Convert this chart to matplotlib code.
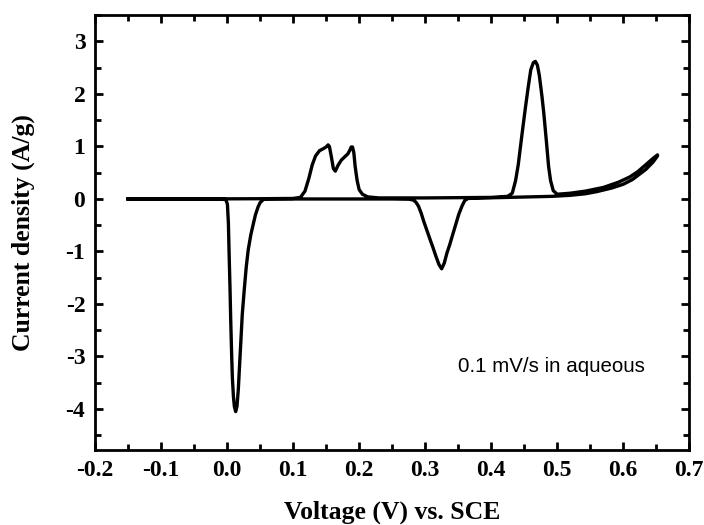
import matplotlib
matplotlib.use("Agg")
import matplotlib.pyplot as plt
from matplotlib.ticker import MultipleLocator, FormatStrFormatter

# courbe CV : balayage anodique puis cathodique
voltage_anodic = [-0.15, -0.05, 0.05, 0.10, 0.111, 0.118, 0.124, 0.129, 0.134, 0.140,
                  0.146, 0.150, 0.153, 0.155, 0.158, 0.161, 0.164, 0.168, 0.173, 0.178,
                  0.183, 0.186, 0.188, 0.190, 0.192, 0.194, 0.197, 0.200, 0.205, 0.213,
                  0.23, 0.30, 0.40, 0.425, 0.432, 0.437, 0.441, 0.447, 0.452, 0.456,
                  0.460, 0.464, 0.467, 0.470, 0.473, 0.477, 0.480, 0.484, 0.487, 0.490,
                  0.494, 0.500, 0.52, 0.543, 0.57, 0.593, 0.610, 0.622, 0.634, 0.643,
                  0.652]
current_anodic = [0.0, 0.0, 0.005, 0.01, 0.03, 0.15, 0.40, 0.65, 0.82, 0.92,
                  0.96, 0.99, 1.03, 1.00, 0.80, 0.58, 0.53, 0.64, 0.74, 0.80,
                  0.86, 0.93, 0.99, 0.99, 0.88, 0.62, 0.35, 0.18, 0.09, 0.04,
                  0.02, 0.02, 0.03, 0.05, 0.11, 0.35, 0.65, 1.26, 1.75, 2.12,
                  2.46, 2.60, 2.62, 2.55, 2.35, 1.95, 1.60, 1.05, 0.62, 0.35,
                  0.16, 0.09, 0.11, 0.15, 0.22, 0.32, 0.42, 0.52, 0.65, 0.75,
                  0.84]

voltage_cathodic = [0.652, 0.645, 0.634, 0.614, 0.600, 0.583, 0.560, 0.543, 0.52, 0.492,
                    0.442, 0.391, 0.365, 0.360, 0.356, 0.351, 0.346, 0.341, 0.337, 0.333,
                    0.329, 0.325, 0.321, 0.316, 0.312, 0.308, 0.303, 0.298, 0.294, 0.290,
                    0.286, 0.282, 0.276, 0.25, 0.20, 0.10, 0.060, 0.055, 0.050, 0.047,
                    0.043, 0.040, 0.036, 0.032, 0.029, 0.026, 0.023, 0.021, 0.019, 0.017,
                    0.015, 0.013, 0.011, 0.0096, 0.008, 0.007, 0.0055, 0.0045, 0.003, 0.002,
                    0.0005, -0.002, -0.02, -0.15]
current_cathodic = [0.82, 0.70, 0.56, 0.37, 0.28, 0.21, 0.14, 0.10, 0.07, 0.05,
                    0.035, 0.02, 0.01, -0.03, -0.13, -0.29, -0.50, -0.71, -0.88, -1.03,
                    -1.22, -1.33, -1.25, -1.08, -0.93, -0.79, -0.61, -0.43, -0.27, -0.14,
                    -0.06, -0.02, -0.005, 0.0, 0.0, 0.0, 0.0, -0.01, -0.07, -0.15,
                    -0.30, -0.46, -0.68, -0.97, -1.30, -1.73, -2.20, -2.68, -3.15, -3.63,
                    -3.95, -4.05, -3.95, -3.76, -3.40, -3.00, -2.30, -1.73, -1.00, -0.46,
                    -0.10, -0.01, 0.0, 0.0]

plt.rcParams['axes.unicode_minus'] = False
serif = ['Liberation Serif', 'DejaVu Serif']

fig = plt.figure(figsize=(7.04, 5.25), dpi=100)
ax = fig.add_axes([0.135, 0.143, 0.844, 0.828])

ax.plot(voltage_anodic + voltage_cathodic, current_anodic + current_cathodic,
        color='black', lw=2.4, solid_joinstyle='round')

ax.set_xlim(-0.2, 0.7)
ax.set_ylim(-4.78, 3.5)
ax.xaxis.set_major_locator(MultipleLocator(0.1))
ax.xaxis.set_minor_locator(MultipleLocator(0.05))
ax.yaxis.set_major_locator(MultipleLocator(1))
ax.yaxis.set_minor_locator(MultipleLocator(0.5))
ax.xaxis.set_major_formatter(FormatStrFormatter('%.1f'))
ax.yaxis.set_major_formatter(FormatStrFormatter('%d'))

ax.tick_params(which='both', direction='in', top=True, right=True, width=2)
ax.tick_params(which='major', length=6, pad=7)
ax.tick_params(which='minor', length=4)
for spine in ax.spines.values():
    spine.set_linewidth(2)

for lab in ax.get_xticklabels() + ax.get_yticklabels():
    lab.set_family(serif)
    lab.set_fontweight('bold')
    lab.set_fontsize(17)

ax.set_xlabel("Voltage (V) vs. SCE", family=serif, fontweight='bold', fontsize=18.5, labelpad=14)
ax.set_ylabel("Current density (A/g)", family=serif, fontweight='bold', fontsize=18.5, labelpad=22)

ax.text(0.492, -3.19, "0.1 mV/s in aqueous", family=['Liberation Sans', 'DejaVu Sans'],
        fontsize=14.8, ha='center', va='center')

fig.savefig("out.png", dpi=100)
